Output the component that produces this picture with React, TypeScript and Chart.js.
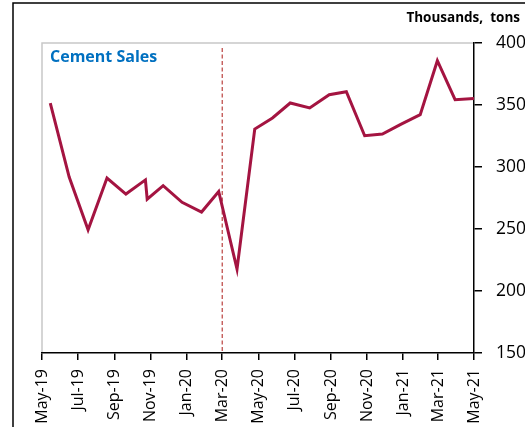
import React, { useEffect, useRef } from "react";
import { Chart, registerables } from "chart.js";

Chart.register(...registerables);

// Data (dates of observations and values, thousands of tons)
const obsDates = [
  "2019-05-15", "2019-06-16", "2019-07-18", "2019-08-19", "2019-09-20",
  "2019-10-23", "2019-10-26", "2019-11-22", "2019-12-24", "2020-01-26",
  "2020-02-24", "2020-03-26", "2020-04-25", "2020-05-25", "2020-06-24",
  "2020-07-27", "2020-08-29", "2020-09-27", "2020-10-28", "2020-11-27",
  "2020-12-28", "2021-01-30", "2021-02-28", "2021-03-30", "2021-05-01",
];
const cementSales = [
  351.6, 291.9, 249.4, 291.1, 278.2,
  289.6, 274.0, 284.9, 271.5, 263.7,
  280.3, 217.7, 330.6, 339.5, 351.6,
  347.6, 358.3, 360.7, 325.2, 326.6,
  334.4, 342.2, 385.7, 354.3, 355.3,
];
const tickDates = [
  "2019-05-01", "2019-07-01", "2019-09-01", "2019-11-01", "2020-01-01",
  "2020-03-01", "2020-05-01", "2020-07-01", "2020-09-01", "2020-11-01",
  "2021-01-01", "2021-03-01", "2021-05-01",
];
const tickLabels = [
  "May-19", "Jul-19", "Sep-19", "Nov-19", "Jan-20", "Mar-20", "May-20",
  "Jul-20", "Sep-20", "Nov-20", "Jan-21", "Mar-21", "May-21",
];
const markerDate = "2020-03-01";
const title = "Cement Sales";
const unitLabel = "Thousands,  tons";
const yMin = 150;
const yMax = 400;
const yStep = 50;

const BASE = Date.UTC(2019, 4, 1);
const toDay = (s: string) => {
  const [y, m, d] = s.split("-").map(Number);
  return (Date.UTC(y, m - 1, d) - BASE) / 86400000;
};

const FONT = "'Open Sans', 'Noto Sans', sans-serif";

const decorPlugin = {
  id: "decor",
  beforeDraw(chart: any) {
    const { ctx, chartArea } = chart;
    ctx.save();
    // outer frame
    ctx.strokeStyle = "#000";
    ctx.lineWidth = 1.5;
    ctx.beginPath();
    ctx.moveTo(13, 427);
    ctx.lineTo(13, 3);
    ctx.lineTo(525, 3);
    ctx.stroke();
    // plot area gray border (left/top)
    ctx.strokeStyle = "#c8c8c8";
    ctx.lineWidth = 1.5;
    ctx.beginPath();
    ctx.moveTo(chartArea.left, chartArea.bottom);
    ctx.lineTo(chartArea.left, chartArea.top);
    ctx.lineTo(chartArea.right, chartArea.top);
    ctx.stroke();
    // dashed marker
    const x = chart.scales.x.getPixelForValue(toDay(markerDate));
    ctx.strokeStyle = "#C0504D";
    ctx.lineWidth = 1.3;
    ctx.setLineDash([4, 2.5]);
    ctx.beginPath();
    ctx.moveTo(x, chartArea.top + 5);
    ctx.lineTo(x, chartArea.bottom);
    ctx.stroke();
    ctx.setLineDash([]);
    // texts
    ctx.fillStyle = "#0070C0";
    ctx.font = `bold 16px ${FONT}`;
    ctx.textAlign = "left";
    ctx.textBaseline = "middle";
    ctx.fillText(title, chartArea.left + 8, chartArea.top + 14);
    ctx.fillStyle = "#000";
    ctx.font = `bold 13.5px ${FONT}`;
    ctx.textAlign = "right";
    ctx.fillText(unitLabel, 520, 18);
    ctx.restore();
  },
};

export default function App() {
  const ref = useRef<HTMLCanvasElement>(null);
  useEffect(() => {
    const chart = new Chart(ref.current as HTMLCanvasElement, {
      type: "line",
      data: {
        datasets: [
          {
            label: title,
            data: obsDates.map((d, i) => ({ x: toDay(d), y: cementSales[i] })),
            borderColor: "#A41441",
            borderWidth: 3,
            pointRadius: 0,
            tension: 0,
            fill: false,
            clip: false as any,
          },
        ],
      },
      options: {
        responsive: false,
        animation: false,
        devicePixelRatio: 1,
        layout: { padding: { left: 42, top: 43, right: 0, bottom: 0 } },
        plugins: { legend: { display: false }, tooltip: { enabled: false } },
        scales: {
          x: {
            type: "linear",
            min: 0,
            max: toDay(tickDates[tickDates.length - 1]),
            afterBuildTicks: (s: any) => {
              s.ticks = tickDates.map((d) => ({ value: toDay(d) }));
            },
            afterFit: (s: any) => {
              s.height = 74;
            },
            ticks: {
              autoSkip: false,
              maxRotation: 90,
              minRotation: 90,
              padding: 9,
              color: "#000",
              font: { size: 16, family: FONT },
              callback: (_v: any, i: number) => tickLabels[i],
            },
            grid: {
              drawOnChartArea: false,
              drawTicks: true,
              tickLength: 7,
              color: "#000",
              lineWidth: 1.5,
            },
            border: { color: "#000", width: 1.5 },
          },
          y: {
            position: "right",
            min: yMin,
            max: yMax,
            afterFit: (s: any) => {
              s.width = 51;
            },
            ticks: {
              stepSize: yStep,
              padding: 14,
              color: "#000",
              font: { size: 17.5, family: FONT },
            },
            grid: {
              drawOnChartArea: false,
              drawTicks: true,
              tickLength: 8,
              color: "#000",
              lineWidth: 1.5,
            },
            border: { color: "#000", width: 1.5 },
          },
        },
      } as any,
      plugins: [decorPlugin],
    });
    return () => chart.destroy();
  }, []);
  return (
    <div style={{ position: "fixed", left: 0, top: 0, width: 525, height: 427, background: "#fff" }}>
      <canvas ref={ref} width={525} height={427} style={{ display: "block", width: 525, height: 427 }} />
    </div>
  );
}
